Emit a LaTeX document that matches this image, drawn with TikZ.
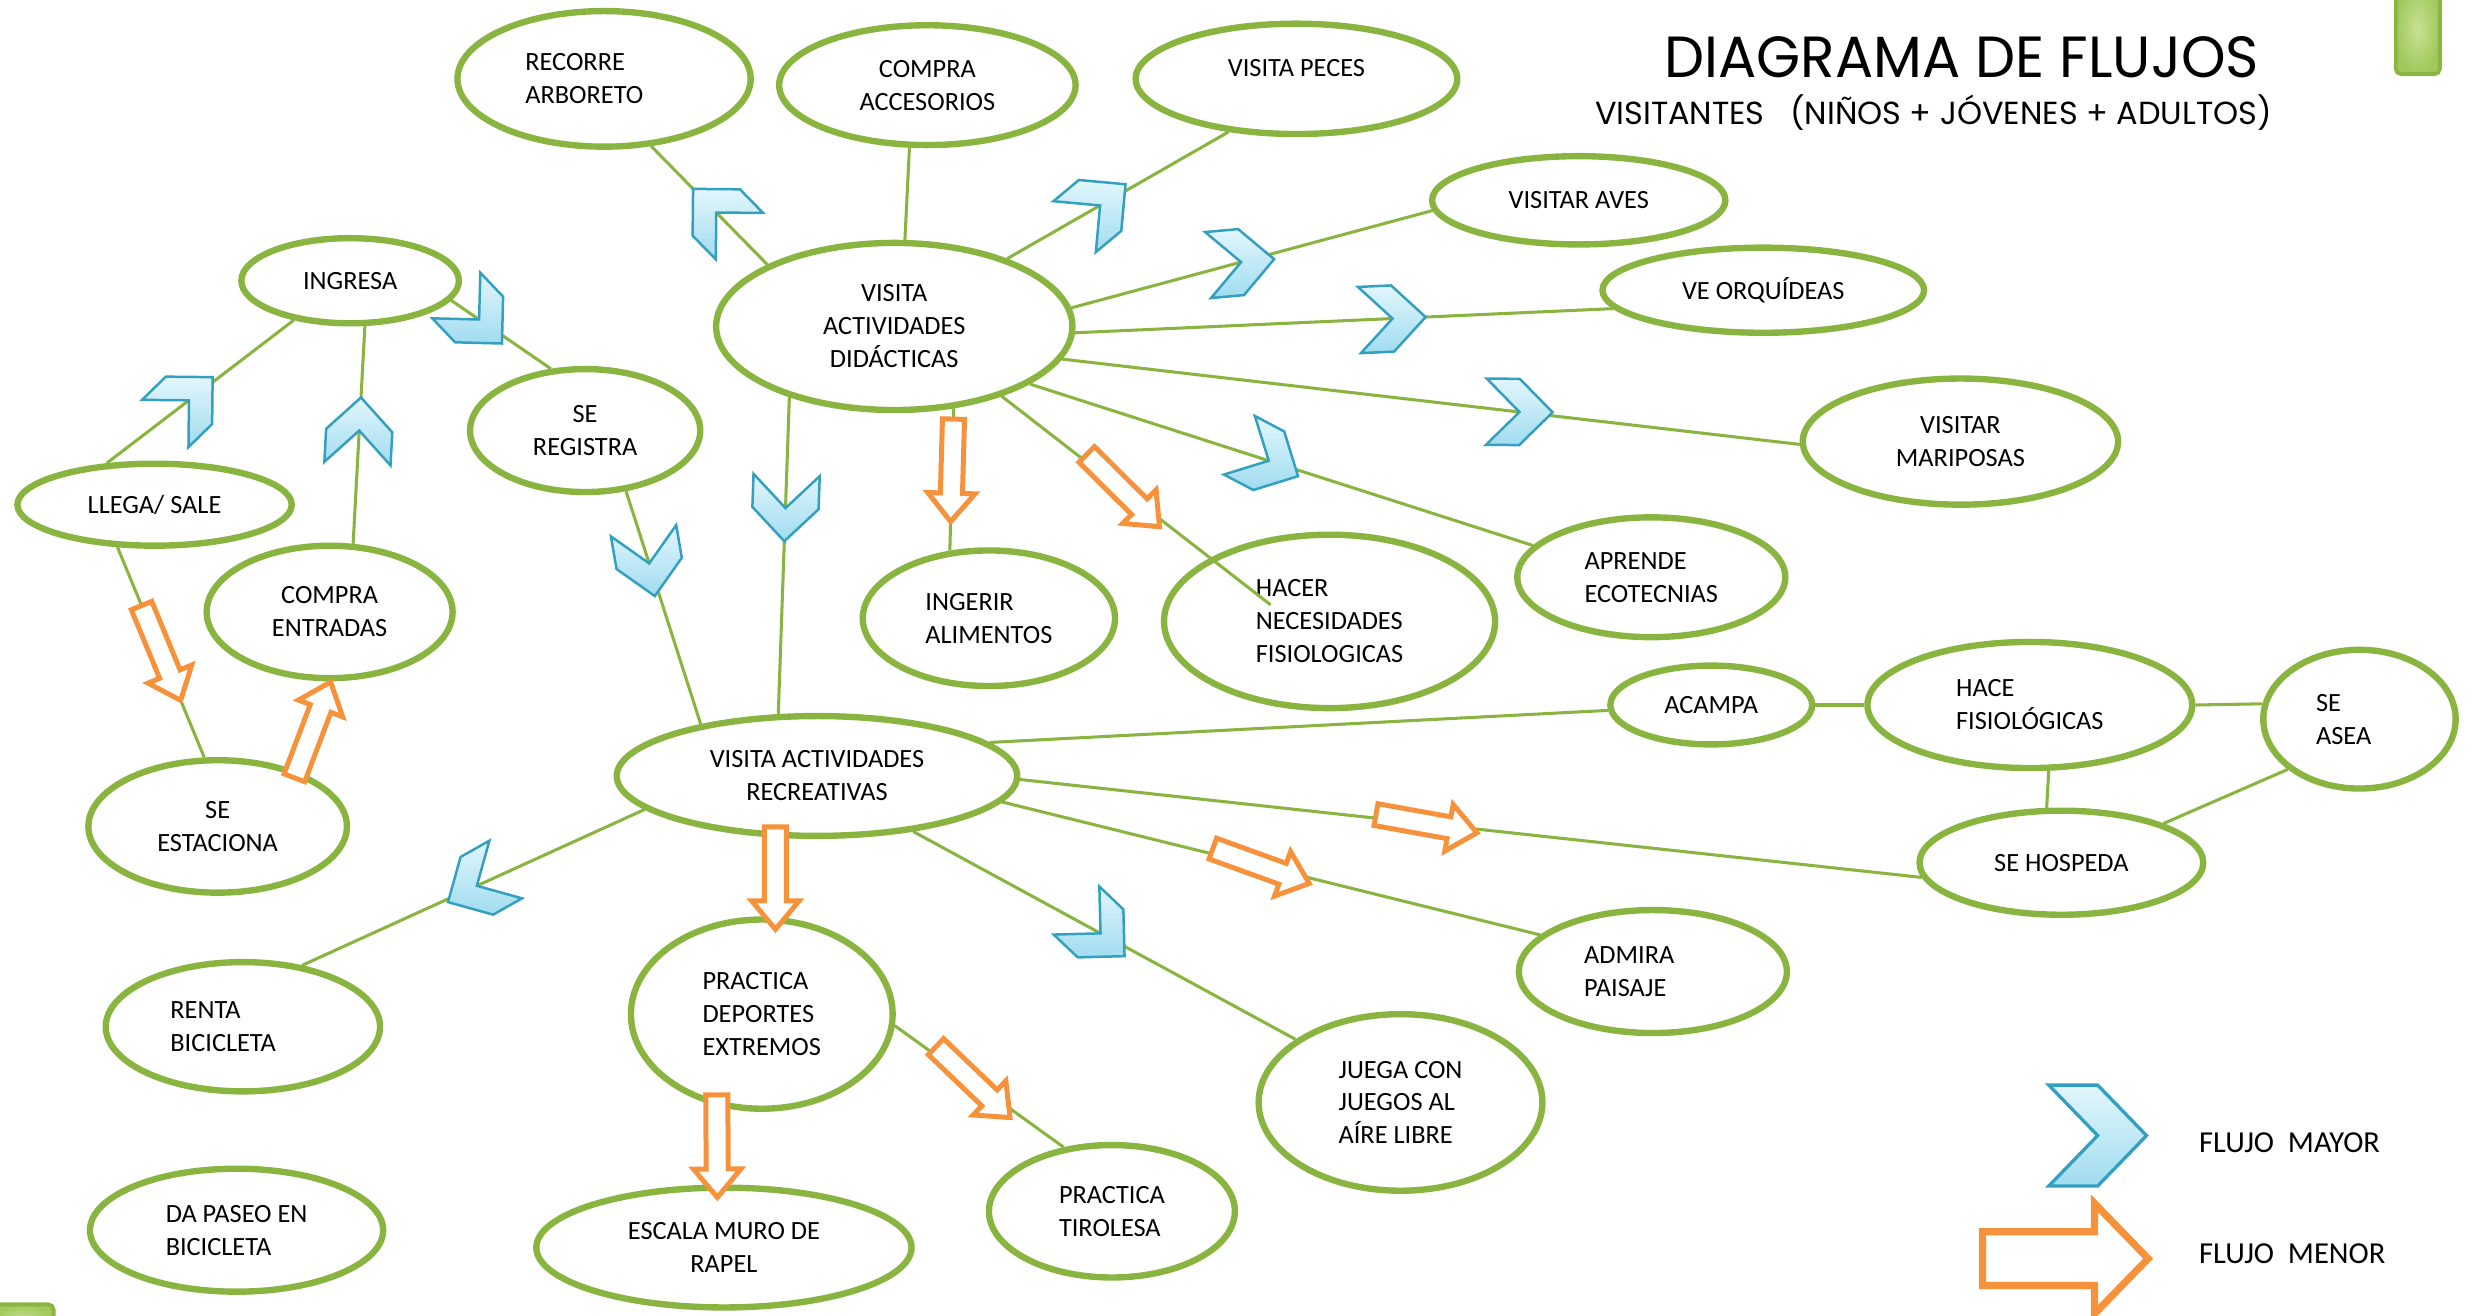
\documentclass[tikz,border=0pt]{standalone}
\usepackage{fontspec}
\setmainfont{Carlito}
\newfontfamily\titlefont{Poppins}
\usepackage{graphicx}
\usetikzlibrary{shapes.geometric,decorations.markings}
\definecolor{grn}{RGB}{138,180,64}
\definecolor{chevline}{RGB}{52,160,192}
\definecolor{chevtop}{RGB}{226,246,252}
\definecolor{chevbot}{RGB}{160,220,240}
\definecolor{org}{RGB}{246,146,60}
\definecolor{boxb}{RGB}{140,180,64}
\definecolor{boxi}{RGB}{200,225,150}
\definecolor{boxo}{RGB}{160,200,90}
\newcommand\chevmark[1]{\draw[chevshape,rotate=#1] (-21,-21) -- (0,-21) -- (21,0) -- (0,21) -- (-21,21) -- (0,0) -- cycle;}
\newcommand\arrmark[1]{\draw[arrshape,rotate=#1] (-32,-7) -- (15,-7) -- (15,-15) -- (33,0) -- (15,15) -- (15,7) -- (-32,7) -- cycle;}
\tikzset{
 x=0.02cm,y=-0.02cm,
 el/.style={ellipse,draw=grn,line width=2.3pt,inner sep=0pt,align=center,font=\fontsize{9.5}{11.9}\selectfont,text=black},
 ell/.style 2 args={el,minimum width=#1*0.04cm,minimum height=#2*0.04cm},
 conn/.style={draw=grn,line width=1.1pt},
 chevshape/.style={draw=chevline,line width=0.9pt,top color=chevtop,bottom color=chevbot,line join=miter},
 arrshape/.style={draw=org,line width=1.8pt,fill=white,line join=miter},
 majflow/.style 2 args={postaction={decorate,decoration={markings,mark=at position #1 with {\chevmark{#2}}}}},
 minflow/.style 2 args={postaction={decorate,decoration={markings,mark=at position #1 with {\arrmark{#2}}}}},
 legtext/.style={anchor=base west,inner sep=0pt,font=\fontsize{11}{13}\selectfont},
}
\begin{document}
\begin{tikzpicture}
\useasboundingbox (0,0) rectangle (1568,834);
\fill[white] (0,0) rectangle (1568,834);

% decorative boxes
\draw[draw=boxb,line width=1.4pt,inner color=boxi,outer color=boxo,rounded corners=2pt] (1519,-10) rectangle (1547,47);
\draw[draw=boxb,line width=1.4pt,inner color=boxi,outer color=boxo,rounded corners=2pt] (-6,827) rectangle (34,850);

% title
\node[anchor=base west,inner sep=0pt] (title) at (1055,49) {\titlefont\resizebox{7.54cm}{0.52cm}{DIAGRAMA DE FLUJOS}};
\node[anchor=base west,inner sep=0pt] (subtitle) at (1011,79) {\titlefont\resizebox{8.58cm}{!}{VISITANTES\ \ \ (NIÑOS + JÓVENES + ADULTOS)}};

% nodes
\node[ell={93}{43},align=left] (arb) at (383,50) {RECORRE\\ARBORETO\hspace*{0.5cm}};
\node[ell={94}{38}] (acc) at (588,54) {COMPRA\\ACCESORIOS};
\node[ell={102}{35}] (pec) at (822,50) {\raisebox{0.14cm}[\height][\depth]{VISITA PECES}};
\node[ell={93}{28}] (ave) at (1001,127) {VISITAR AVES};
\node[ell={102}{27}] (orq) at (1118,184) {VE ORQUÍDEAS};
\node[ell={100}{40}] (mar) at (1243,280) {VISITAR\\MARIPOSAS};
\node[ell={85}{38},align=left] (eco) at (1047,366) {APRENDE\\ECOTECNIAS};
\node[ell={105}{55},align=left] (nec) at (843,394) {HACER\\NECESIDADES\hspace*{0.4cm}\\FISIOLOGICAS};
\node[ell={80}{43},align=left] (ali) at (627,392) {INGERIR\\ALIMENTOS};
\node[ell={113}{53}] (did) at (567,207) {VISITA\\ACTIVIDADES\\DIDÁCTICAS};
\node[ell={69}{27}] (ing) at (222,178) {INGRESA};
\node[ell={73}{39}] (reg) at (371,273) {SE\\REGISTRA};
\node[ell={87}{26}] (lle) at (98,320) {LLEGA/ SALE};
\node[ell={78}{42}] (ent) at (209,388) {COMPRA\\ENTRADAS};
\node[ell={82}{42}] (est) at (138,524) {SE\\ESTACIONA};
\node[ell={127}{38}] (rec) at (518,492) {VISITA ACTIVIDADES\\RECREATIVAS};
\node[ell={64}{25}] (aca) at (1085,447) {ACAMPA};
\node[ell={103}{40},align=left] (fis) at (1287,447) {HACE\\FISIOLÓGICAS};
\node[ell={61}{44},align=left] (ase) at (1496,456) {SE\\ASEA\hspace*{0.4cm}};
\node[ell={90}{33}] (hos) at (1307,547) {SE HOSPEDA};
\node[ell={85}{39},align=left] (pai) at (1048,616) {ADMIRA\\PAISAJE\hspace*{0.7cm}};
\node[ell={90}{56},align=left] (jue) at (888,699) {JUEGA CON\\JUEGOS AL\\AÍRE LIBRE};
\node[ell={78}{42},align=left] (tir) at (705,768) {PRACTICA\\TIROLESA};
\node[ell={83}{60},align=left] (dep) at (483,643) {PRACTICA\\DEPORTES\\EXTREMOS};
\node[ell={119}{38}] (esc) at (459,791) {ESCALA MURO DE\\RAPEL};
\node[ell={87}{41},align=left] (ren) at (154,651) {RENTA\\BICICLETA\hspace*{0.5cm}};
\node[ell={93}{39},align=left] (pas) at (150,780) {DA PASEO EN\\BICICLETA};

% connectors
\draw[conn,majflow={0.28}{-12}] (ing.-11) -- (reg.119);
\draw[conn,majflow={0.44}{7}] (lle.139) -- (ing.215);
\draw[conn,majflow={0.52}{0}] (ent.71) -- (ing.-72);
\draw[conn,majflow={0.31}{-8}] (reg.-56) -- (rec.156);
\draw[conn,majflow={0.44}{0}] (did.154) -- (arb.-55);
\draw[conn] (did.83) -- (acc.254);
\draw[conn,majflow={0.42}{10}] (did.31) -- (pec.218);
\draw[conn,majflow={0.47}{-10}] (did.6) -- (ave.184);
\draw[conn,majflow={0.59}{0}] (did.-2) -- (orq.187);
\draw[conn,majflow={0.62}{6}] (did.-11) -- (mar.181);
\draw[conn,majflow={0.475}{-10}] (did.-23) -- (eco.165);
\draw[conn,shorten >=-0.97cm] (did.-33) -- (nec.152);
\path[minflow={0.58}{-7}] (did.-33) -- (nec.152);
\draw[conn,minflow={0.43}{0}] (did.-54) -- (ali.120);
\draw[conn,majflow={0.35}{0}] (did.214) -- (rec.122);
\draw[conn] (rec.11) -- (aca.183);
\draw[conn] (aca.0) -- (fis.180);
\draw[conn] (fis.0) -- (ase.171);
\draw[conn] (fis.-74) -- (hos.105);
\draw[conn] (ase.215) -- (hos.21);
\draw[conn,minflow={0.45}{-4}] (rec.-1) -- (hos.186);
\draw[conn,minflow={0.48}{-6}] (rec.-8) -- (pai.162);
\draw[conn,majflow={0.49}{-15}] (rec.-30) -- (jue.149);
\draw[conn,majflow={0.49}{5}] (rec.191) -- (ren.46);
\draw[conn,minflow={0.46}{-8}] (dep.-5) -- (tir.127);
\draw[conn,minflow={0.5}{0}] (lle.229) -- (est.101);
\draw[conn,minflow={0.45}{0}] (est.35) -- (ent.-89);
\path[minflow={0.5}{0}] (rec.-124) -- (dep.82);
\path[minflow={0.5}{0}] (dep.-116) -- (esc.96);

% legend
\draw[chevshape,line width=1.2pt] (1299,688) -- (1330,688) -- (1361,720) -- (1330,752) -- (1299,752) -- (1330,720) -- cycle;
\draw[draw=org,line width=2.6pt,fill=white,line join=miter] (1257,781) -- (1328,781) -- (1328,763) -- (1362,798) -- (1328,833) -- (1328,815) -- (1257,815) -- cycle;
\node[legtext] (lmay) at (1394,731) {FLUJO\ \ MAYOR};
\node[legtext] (lmen) at (1394,801) {FLUJO\ \ MENOR};
\end{tikzpicture}
\end{document}
